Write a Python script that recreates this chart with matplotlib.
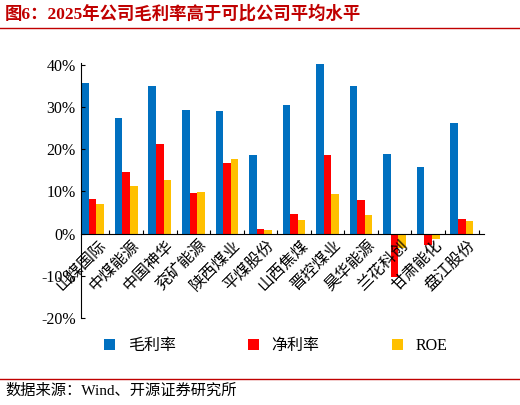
import matplotlib
matplotlib.use('Agg')
import matplotlib.pyplot as plt
import numpy as np

companies = ['山煤国际','中煤能源','中国神华','兖矿能源','陕西煤业','平煤股份','山西焦煤','晋控煤业','昊华能源','兰花科创','甘肃能化','盘江股份']
gross = [35.6,27.4,35.1,29.3,29.0,18.6,30.5,40.1,35.0,18.8,15.7,26.2]
net = [8.1,14.7,21.2,9.7,16.7,1.1,4.7,18.7,7.9,-10.3,-2.8,3.5]
roe = [7.0,11.4,12.6,9.9,17.8,0.9,3.2,9.5,4.3,-3.5,-1.3,3.0]
yticks = [-20,-10,0,10,20,30,40]

plt.rcParams['font.family'] = ['Liberation Serif','Noto Sans CJK SC','DejaVu Sans']
fig = plt.figure(figsize=(5.2,4.05), dpi=100)
ax = fig.add_axes([0.155, 0.215, 0.775, 0.63])
x = np.arange(len(companies))
w = 0.225
ax.bar(x-w, gross, w, color='#0070C0', label='毛利率')
ax.bar(x, net, w, color='#FF0000', label='净利率')
ax.bar(x+w, roe, w, color='#FFC000', label='ROE')
ax.set_ylim(-20, 40.5)
ax.set_xlim(-0.36, 11.65)
ax.set_yticks(yticks)
ax.set_yticklabels([f'{t}%' for t in yticks], fontsize=11.5)
for s in ['top','right']:
    ax.spines[s].set_visible(False)
ax.spines['bottom'].set_position(('data',0))
ax.set_xticks(x+0.5)
ax.set_xticklabels([])
ax.tick_params(axis='x', direction='in', length=3)
ax.tick_params(axis='y', direction='in', length=3)
for i, c in enumerate(companies):
    ax.text(i+0.15, -0.8, c, rotation=45, ha='right', va='top', fontsize=11.5,
            family=['Noto Sans CJK SC'], rotation_mode='anchor')
fig.legend(loc='center', bbox_to_anchor=(0.53, 0.145), ncol=3, frameon=False,
           prop={'family':['Liberation Serif','Noto Sans CJK SC'],'size':11.5},
           handlelength=0.7, handleheight=0.7, columnspacing=4.5)
fig.text(0.01, 0.965, '图6：2025年公司毛利率高于可比公司平均水平', fontsize=12.5, fontweight='bold',
         color='#C00000', va='center', family=['Liberation Serif','Noto Sans CJK SC'])
fig.add_artist(plt.Line2D([0.0,1.0],[0.93,0.93], color='#C00000', lw=1.0))
fig.add_artist(plt.Line2D([0.0,1.0],[0.065,0.065], color='#C00000', lw=1.0))
fig.text(0.01, 0.035, '数据来源：Wind、开源证券研究所', fontsize=11, va='center',
         family=['Liberation Serif','Noto Sans CJK SC'])
fig.savefig('out.png', dpi=100)
